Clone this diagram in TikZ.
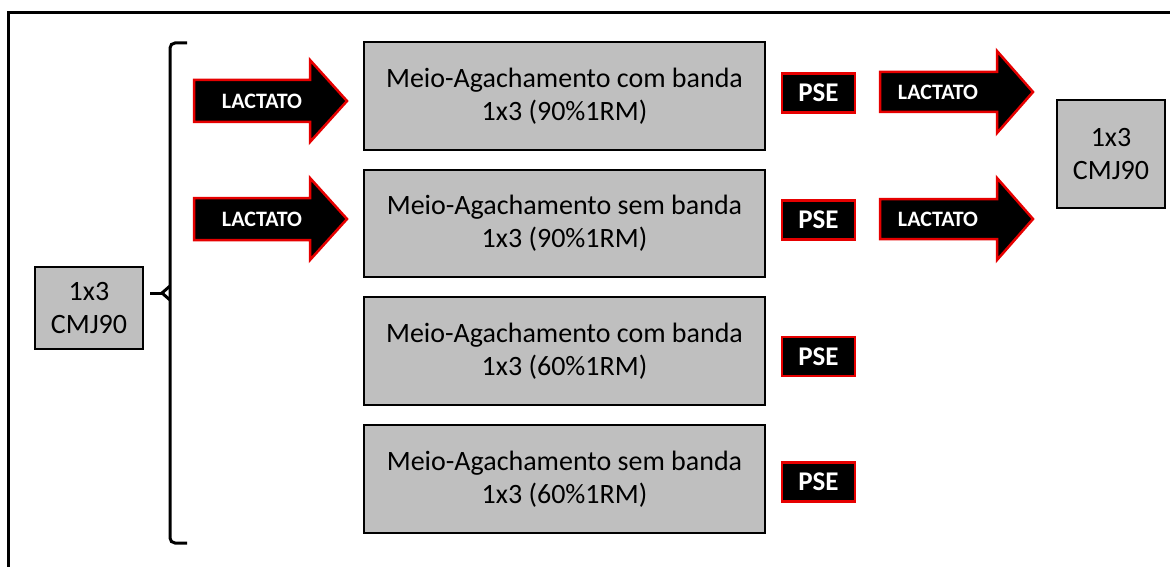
\documentclass[tikz,border=0pt]{standalone}
\usepackage{fontspec}
\setmainfont{Carlito}
\definecolor{boxgray}{RGB}{191,191,191}
\definecolor{arrred}{RGB}{230,0,0}
\begin{document}
\begin{tikzpicture}[x=1pt,y=-1pt,
  gbox/.style={draw=black, line width=2.5pt, fill=boxgray, align=center,
    font=\fontsize{28}{33}\selectfont, inner sep=0pt},
  psebox/.style={draw=arrred, line width=2.5pt, fill=black, text=white,
    font=\bfseries\fontsize{27}{30}\selectfont, minimum width=73pt, minimum height=39pt, inner sep=0pt},
  arrlabel/.style={text=white, font=\bfseries\fontsize{22}{24}\selectfont, inner sep=0pt},
  arrshape/.style={draw=arrred, line width=2.5pt, fill=black, line join=miter},
  bracket/.style={draw=black, line width=3pt}
]
\useasboundingbox (0,0) rectangle (1170,567);
\clip (0,0) rectangle (1170,567);
% outer frame
\draw[line width=3pt] (8,13) rectangle (1185,585);

% left CMJ box
\node[gbox, minimum width=108pt, minimum height=82pt] (cmjL) at (89,308) {1x3\\CMJ90};
% right CMJ box
\node[gbox, minimum width=108pt, minimum height=108pt] (cmjR) at (1111,154) {1x3\\CMJ90};

% exercise boxes
\node[gbox, minimum width=401pt, minimum height=108pt] (ex1) at (564.5,96) {Meio-Agachamento com banda\\1x3 (90\%1RM)};
\node[gbox, minimum width=401pt, minimum height=107pt] (ex2) at (564.5,223.5) {Meio-Agachamento sem banda\\1x3 (90\%1RM)};
\node[gbox, minimum width=401pt, minimum height=108pt] (ex3) at (564.5,351) {Meio-Agachamento com banda\\1x3 (60\%1RM)};
\node[gbox, minimum width=401pt, minimum height=108pt] (ex4) at (564.5,479) {Meio-Agachamento sem banda\\1x3 (60\%1RM)};

% bracket
\coordinate (brTip) at (150,293);
\draw[bracket, rounded corners=5pt] (187,43) -- (170,43) -- (170,543) -- (187,543);
\draw[bracket, line join=round] (170,286) -- (162,293) -- (170,300);
\draw[bracket] (162,293) -- (brTip);

% left LACTATO arrows
\foreach \c/\n in {101/la1, 219/la2}{
  \draw[arrshape] (194,\c-21) -- (310,\c-21) -- (310,\c-41) -- (347,\c) -- (310,\c+41) -- (310,\c+21) -- (194,\c+21) -- cycle;
  \node[arrlabel] (\n) at (262,\c) {LACTATO};
}
% right LACTATO arrows
\foreach \c/\n in {92/ra1, 219/ra2}{
  \draw[arrshape] (880,\c-20) -- (997,\c-20) -- (997,\c-41) -- (1033,\c) -- (997,\c+41) -- (997,\c+20) -- (880,\c+20) -- cycle;
  \node[arrlabel] (\n) at (938,\c) {LACTATO};
}

% PSE boxes
\node[psebox] (pse1) at (818.5,93) {PSE};
\node[psebox] (pse2) at (818.5,220) {PSE};
\node[psebox] (pse3) at (818.5,356.5) {PSE};
\node[psebox] (pse4) at (818.5,482) {PSE};
\end{tikzpicture}
\end{document}
